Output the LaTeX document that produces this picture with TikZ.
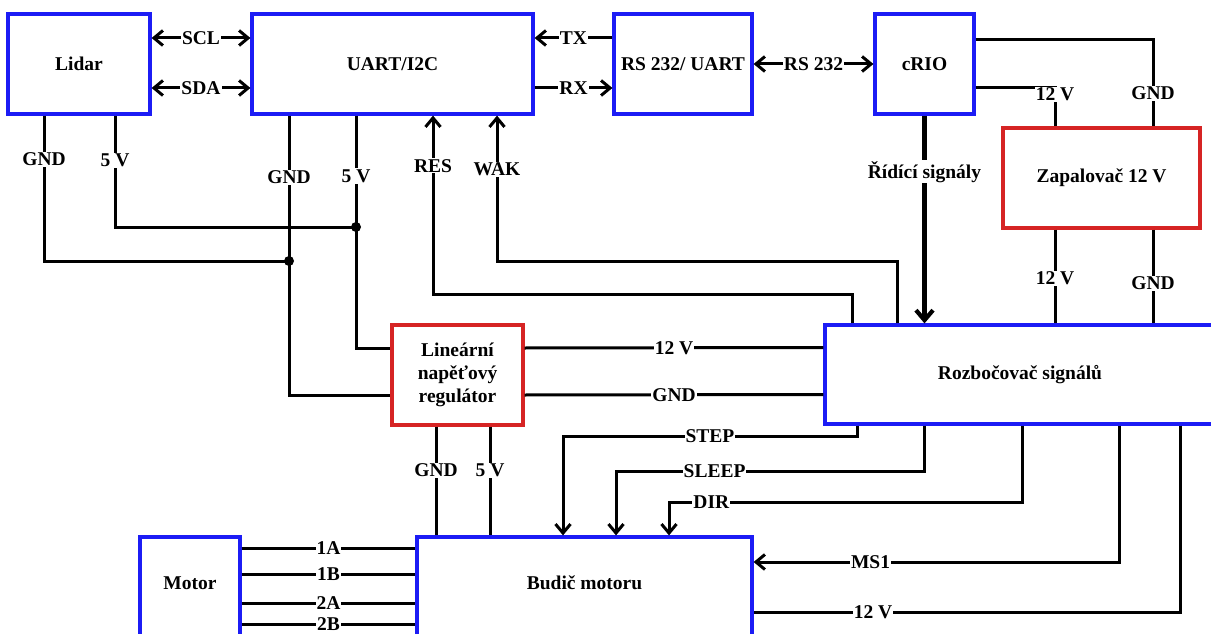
\documentclass[tikz,border=0pt]{standalone}
\usepackage{fontspec}
\setmainfont{Liberation Serif}
\usetikzlibrary{arrows.meta,calc,positioning}
\definecolor{bdblue}{RGB}{28,28,245}
\definecolor{bdred}{RGB}{214,36,36}
\tikzset{
  blk/.style={draw=bdblue,line width=3.2pt,fill=white,align=center,inner sep=2pt},
  pwr/.style={draw=bdred,line width=3.2pt,fill=white,align=center,inner sep=2pt},
  lbl/.style={fill=white,inner sep=1pt},
  wire/.style={line width=3pt},
  arr/.style={wire,-{Straight Barb[length=9pt,width=15pt]}},
  biarr/.style={wire,{Straight Barb[length=9pt,width=15pt]}-{Straight Barb[length=9pt,width=15pt]}},
  bigarr/.style={line width=4.2pt,-{Straight Barb[length=10pt,width=17pt]}},
}

\begin{document}
\begin{tikzpicture}[x=1pt,y=-1pt,font=\fontsize{19.5}{23}\selectfont\bfseries]
    \useasboundingbox (0,0) rectangle (1211,634);
    \clip (0,0) rectangle (1211,634);
    \node[blk,minimum width=142pt,minimum height=100pt] (lidar) at (79,64) {Lidar};
    \node[blk,minimum width=281pt,minimum height=100pt] (uart) at (392.5,64) {UART/I2C};
    \node[blk,minimum width=138pt,minimum height=100pt] (rs) at (683,64) {RS 232/ UART};
    \node[blk,minimum width=99pt,minimum height=100pt] (crio) at (924.5,64) {cRIO};
    \node[pwr,minimum width=197pt,minimum height=100pt] (zap) at (1101.5,178) {Zapalovač 12 V};
    \node[pwr,minimum width=131pt,minimum height=100pt] (reg) at (457.5,375) {Lineární\\napěťový\\regulátor};
    \node[blk,minimum width=390pt,minimum height=99pt] (roz) at (1020,374.5) {Rozbočovač signálů};
    \node[blk,minimum width=100pt,minimum height=104pt,text depth=12pt] (motor) at (190,589) {Motor};
    \node[blk,minimum width=335pt,minimum height=104pt,text depth=12pt] (bud) at (584.5,589) {Budič motoru};
    \coordinate (j5) at (356,227);
    \coordinate (jg) at (289,261);
    % communication
    \draw[biarr] ([yshift=26pt]lidar.east) -- node[lbl]{SCL} ([yshift=26pt]uart.west);
    \draw[biarr] ([yshift=-24pt]lidar.east) -- node[lbl]{SDA} ([yshift=-24pt]uart.west);
    \draw[arr] ([yshift=26pt]rs.west) -- node[lbl]{TX} ([yshift=26pt]uart.east);
    \draw[arr] ([yshift=-24pt]uart.east) -- node[lbl]{RX} ([yshift=-24pt]rs.west);
    \draw[biarr] (rs.east) -- node[lbl]{RS 232} (crio.west);
    % igniter supply
    \draw[wire] ([yshift=24pt]crio.east) -| node[lbl,pos=0.81]{GND} ([xshift=51.5pt]zap.north);
    \draw[wire] ([yshift=-24pt]crio.east) -| node[lbl,pos=0.58]{12 V} ([xshift=-46.5pt]zap.north);
    \draw[wire] ([xshift=-46.5pt]zap.south) -- node[lbl,pos=0.52]{12 V} ([xshift=35pt]roz.north);
    \draw[wire] ([xshift=51.5pt]zap.south) -- node[lbl,pos=0.57]{GND} ([xshift=133pt]roz.north);
    \draw[bigarr] (crio.south) -- node[lbl,pos=0.27]{Řídící signály} ([xshift=-95.5pt]roz.north);
    % back to UART/I2C
    \draw[arr] ([xshift=-123pt]roz.north) |- ([xshift=104.5pt,yshift=-146pt]uart.south) -- node[lbl,pos=0.63]{WAK} ([xshift=104.5pt]uart.south);
    \draw[arr] ([xshift=-168pt]roz.north) |- ([xshift=40.5pt,yshift=-179pt]uart.south) -- node[lbl,pos=0.72]{RES} ([xshift=40.5pt]uart.south);
    % 5 V / GND bus
    \draw[wire] ([xshift=36pt]lidar.south) |- node[lbl,pos=0.2]{5 V} (j5);
    \draw[wire] ([xshift=-35pt]lidar.south) |- node[lbl,pos=0.15]{GND} (jg);
    \draw[wire] ([xshift=-103.5pt]uart.south) |- node[lbl,pos=0.11]{GND} ([yshift=-20pt]reg.west);
    \draw[wire] ([xshift=-36.5pt]uart.south) |- node[lbl,pos=0.13]{5 V} ([yshift=27pt]reg.west);
    \fill (j5) circle (5pt);
    \fill (jg) circle (5pt);
    % regulator
    \draw[wire] ([yshift=27pt]reg.east) -- node[lbl]{12 V} ([yshift=27pt]roz.west);
    \draw[wire] ([yshift=-20pt]reg.east) -- node[lbl]{GND} ([yshift=-20pt]roz.west);
    \draw[wire] ([xshift=-21.5pt]reg.south) -- node[lbl,pos=0.4]{GND} ([xshift=-148.5pt]bud.north);
    \draw[wire] ([xshift=32.5pt]reg.south) -- node[lbl,pos=0.4]{5 V} ([xshift=-94.5pt]bud.north);
    % driver signals
    \draw[arr] ([xshift=-163pt]roz.south) |- node[lbl,pos=0.75]{STEP} ([xshift=-21.5pt,yshift=99pt]bud.north) -- ([xshift=-21.5pt]bud.north);
    \draw[arr] ([xshift=-96pt]roz.south) |- node[lbl,pos=0.84]{SLEEP} ([xshift=31.5pt,yshift=64pt]bud.north) -- ([xshift=31.5pt]bud.north);
    \draw[arr] ([xshift=2pt]roz.south) |- node[lbl,pos=0.94]{DIR} ([xshift=84.5pt,yshift=33pt]bud.north) -- ([xshift=84.5pt]bud.north);
    \draw[arr] ([xshift=99pt]roz.south) |- node[lbl,pos=0.84]{MS1} ([yshift=27pt]bud.east);
    \draw[wire] ([xshift=160pt]roz.south) |- node[lbl,pos=0.86]{12 V} ([yshift=-23pt]bud.east);
    % motor windings
    \draw[wire] ([yshift=41pt]motor.east) -- node[lbl]{1A} ([yshift=41pt]bud.west);
    \draw[wire] ([yshift=15pt]motor.east) -- node[lbl]{1B} ([yshift=15pt]bud.west);
    \draw[wire] ([yshift=-14pt]motor.east) -- node[lbl]{2A} ([yshift=-14pt]bud.west);
    \draw[wire] ([yshift=-35pt]motor.east) -- node[lbl]{2B} ([yshift=-35pt]bud.west);
\end{tikzpicture}
\end{document}
